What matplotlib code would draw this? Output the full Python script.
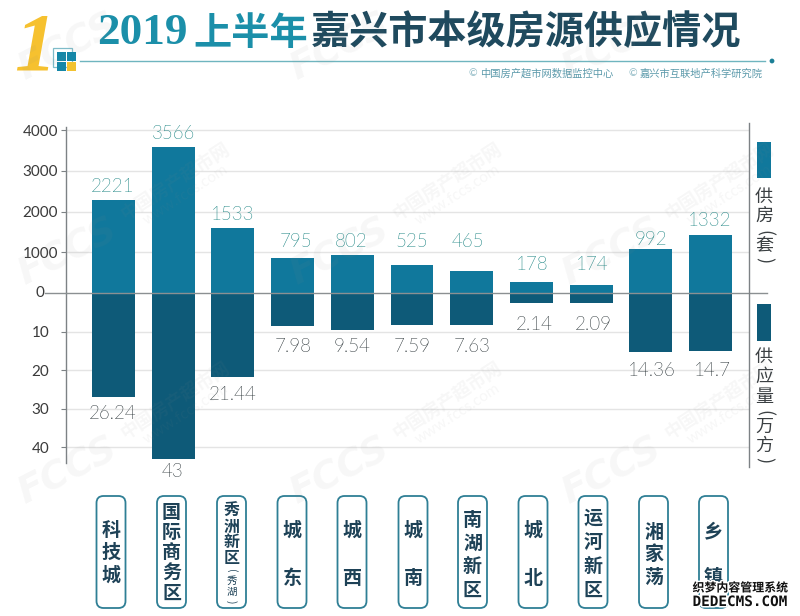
import matplotlib
matplotlib.use("Agg")
import matplotlib.pyplot as plt
import matplotlib.patheffects as pe
from matplotlib import font_manager as fm
from matplotlib.patches import Rectangle, FancyBboxPatch, Circle
from matplotlib.lines import Line2D

W, H = 800, 616
CJK = ['Noto Sans CJK SC', 'DejaVu Sans']
NUM = ['Lato', 'DejaVu Sans']

# ---- data -----------------------------------------------------------------
categories = ['科技城', '国际商务区', '秀洲新区', '城东', '城西', '城南',
              '南湖新区', '城北', '运河新区', '湘家荡', '乡镇']
supply_labels = ['2221', '3566', '1533', '795', '802', '525', '465', '178', '174', '992', '1332']
volume_labels = ['26.24', '43', '21.44', '7.98', '9.54', '7.59', '7.63', '2.14', '2.09', '14.36', '14.7']
# bar lengths (the source artwork is not exactly to scale)
supply_bars = [2279, 3593, 1608, 873, 939, 694, 547, 270, 203, 1078, 1436]
volume_bars = [26.86, 43.04, 21.8, 8.5, 9.6, 8.2, 8.2, 2.6, 2.6, 15.2, 15.0]
upper_ticks = [1000, 2000, 3000, 4000]
lower_ticks = [10, 20, 30, 40]

# ---- layout ---------------------------------------------------------------
supply_label_xy = [(113, 187), (174, 134), (233, 215), (296, 242), (351, 242), (412, 242),
                   (468, 242), (532, 265), (592, 265), (651, 240), (710, 221)]
volume_label_xy = [(113, 414), (172, 472), (233, 395), (293, 347), (352, 347), (412, 347),
                   (472, 347), (534, 325), (593, 325), (652, 371), (712, 371)]
card_x = [111, 171.5, 231.5, 292, 352, 413, 472.5, 533, 593, 653.5, 713.5]
card_first_y = [530, 513, 511, 530, 530, 530, 520, 530, 518, 532, 532]
card_step = [22.5, 20, 15.5, 48, 48, 48, 23.3, 48, 24, 22.5, 45]

BLUE, DARK = '#10789c', '#0e5a78'
TEAL_TXT, GREY_TXT = '#14807f', '#222c30'
AX_COL, GRID = '#7d8285', '#e4e4e4'

# Lato Light for the value labels, if that cut can be found
light_file = next((f.fname for f in fm.fontManager.ttflist
                   if f.name.startswith('Lato') and 'Light' in f.fname and 'Italic' not in f.fname), None)
VALUE_FONT = dict(fontproperties=fm.FontProperties(fname=light_file, size=13.5)) if light_file \
    else dict(family=NUM, fontsize=13.5)

fig = plt.figure(figsize=(W / 100, H / 100), dpi=100, facecolor='white')


def fx(x):
    return x / W


def fy(y):
    return 1 - y / H


def put(x, y, s, **kw):
    kw.setdefault('ha', 'center')
    kw.setdefault('va', 'center')
    return fig.text(fx(x), fy(y), s, **kw)


def rect_axes(l, t, r, b):
    return fig.add_axes([fx(l), fy(b), (r - l) / W, (b - t) / H])


ZERO = 293.3
L, R = 66, 749
up = rect_axes(L, 127, R, ZERO)
lo = rect_axes(L, ZERO, R, 463)
xlim = (-0.796, 10.645)
xs = list(range(len(categories)))

up.bar(xs, supply_bars, width=0.72, color=BLUE, zorder=3)
up.set_ylim(0, (ZERO - 127) / 0.0408)
lo.bar(xs, volume_bars, width=0.72, color=DARK, zorder=3)
lo.set_ylim((463 - ZERO) / 3.85, 0)

for ax, ticks, pad in ((up, upper_ticks, 2.2), (lo, lower_ticks, 8.6)):
    ax.set_xlim(*xlim)
    ax.patch.set_alpha(0)
    ax.set_xticks([])
    ax.set_yticks(ticks)
    ax.set_yticklabels([str(t) for t in ticks], family=NUM, fontsize=11, color='#3a3a3a')
    ax.tick_params(axis='y', length=3.6, width=0.8, color=AX_COL, pad=pad)
    ax.grid(axis='y', color=GRID, lw=1, zorder=1)
    for s in ('top', 'bottom', 'right'):
        ax.spines[s].set_visible(False)
    ax.spines['left'].set_color(AX_COL)
    ax.spines['left'].set_linewidth(1)

# axis furniture
fig.add_artist(Line2D([fx(45), fx(767)], [fy(ZERO)] * 2, color='#8b9092', lw=1, zorder=5))
fig.add_artist(Line2D([fx(R)] * 2, [fy(123), fy(467)], color=AX_COL, lw=1, zorder=5))
put(40, 293, '0', family=NUM, fontsize=11, color='#3a3a3a')

# value labels
for s, (x, y) in zip(supply_labels, supply_label_xy):
    put(x, y, s, color=TEAL_TXT, **VALUE_FONT)
for s, (x, y) in zip(volume_labels, volume_label_xy):
    put(x, y, s, color=GREY_TXT, **VALUE_FONT)

# category cards
for name, cx, y0, step in zip(categories, card_x, card_first_y, card_step):
    fig.add_artist(FancyBboxPatch((cx - 14.5 + 7, H - 608 + 7), 29 - 14, 112 - 14,
                                  boxstyle='round,pad=7', transform=None, fc='white',
                                  ec='#2f7f95', lw=1.3, zorder=2))
    size = 11.5 if name == '秀洲新区' else 13.7
    for i, ch in enumerate(name):
        put(cx, y0 + i * step, ch, family=CJK, fontsize=size, fontweight='bold',
            color='#1e4257', zorder=3)
for ch, y, rot in (('(', 571, -90), ('秀', 581, 0), ('湖', 592, 0), (')', 602, -90)):
    put(231.5, y, ch, family=CJK, fontsize=7.5, color='#1e4257', rotation=rot, zorder=3)

# legend
fig.add_artist(Rectangle((757, H - 178), 14, 36, transform=None, fc=BLUE, ec='none'))
fig.add_artist(Rectangle((757, H - 341), 14, 37, transform=None, fc=DARK, ec='none'))
for ch, y, rot in (('供', 197, 0), ('房', 217, 0), ('(', 233, -90), ('套', 246, 0), (')', 260, -90)):
    put(764, y, ch, family=CJK, fontsize=13, color='#3a3f42', rotation=rot)
for ch, y, rot in (('供', 357, 0), ('应', 377, 0), ('量', 397, 0), ('(', 413, -90),
                   ('万', 427, 0), ('方', 446, 0), (')', 460, -90)):
    put(764, y, ch, family=CJK, fontsize=13, color='#3a3f42', rotation=rot)

# header
put(14, 50, '1', family='Liberation Serif', style='italic', fontweight='bold',
    fontsize=60, color='#f6c12f', ha='left', zorder=3)
fig.add_artist(Rectangle((53, H - 67), 19, 19, transform=None, fc='none', ec='#7fbcc9', lw=0.9))
for (x, y, c) in ((57, 52, '#1587a8'), (67, 52, '#1587a8'), (57, 62, '#1587a8'), (67, 62, '#f2c230')):
    fig.add_artist(Rectangle((x, H - y - 9), 9, 9, transform=None, fc=c, ec='none'))
put(97, 33, '2019', family='Liberation Serif', fontweight='bold', fontsize=32.5,
    color='#1b8fa9', ha='left')
put(193, 33, '上半年', family=CJK, fontweight='bold', fontsize=27.5, color='#1b8fa9', ha='left')
put(311, 33, '嘉兴市本级房源供应情况', family=CJK, fontweight='bold', fontsize=28.2,
    color='#1f4a5e', ha='left')
fig.add_artist(Line2D([fx(80), fx(765)], [fy(61)] * 2, color='#6fb5bf', lw=1))
fig.add_artist(Circle((772, H - 61), 2.4, transform=None, fc='#1b7f96', ec='none'))
for x, s in ((480, '中国房产超市网数据监控中心'), (640, '嘉兴市互联地产科学研究院')):
    put(x - 7, 74, '©', family=NUM, fontsize=7.5, color='#8fb9c4')
    put(x, 74, s, family=CJK, fontsize=7.4, color='#5c9aab', ha='left')

# site watermarks
WM = dict(color='#8a8a8a', alpha=0.07, zorder=8)
for wx in (68, 340, 612):
    for wy in (48, 253, 472):
        put(wx, wy, 'FCCS', family='DejaVu Sans', fontweight='bold', style='italic',
            fontsize=27, rotation=27, **WM)
        if wy > 48:
            put(wx + 107, wy - 72, '中国房产超市网', family=CJK, fontweight='bold', fontsize=13,
                rotation=33, **WM)
            put(wx + 118, wy - 58, 'www.fccs.com', family=NUM, fontsize=11, rotation=33, **WM)

# publisher stamp
stroke = [pe.withStroke(linewidth=2.2, foreground='white')]
put(740, 588, '织梦内容管理系统', family=CJK, fontweight='bold', fontsize=8.6,
    color='#111111', path_effects=stroke, zorder=9)
put(740, 602, 'DEDECMS.COM', family='DejaVu Sans Mono', fontweight='bold', fontsize=10.3,
    color='#111111', path_effects=stroke, zorder=9)

fig.savefig('out.png', dpi=100, facecolor='white')
